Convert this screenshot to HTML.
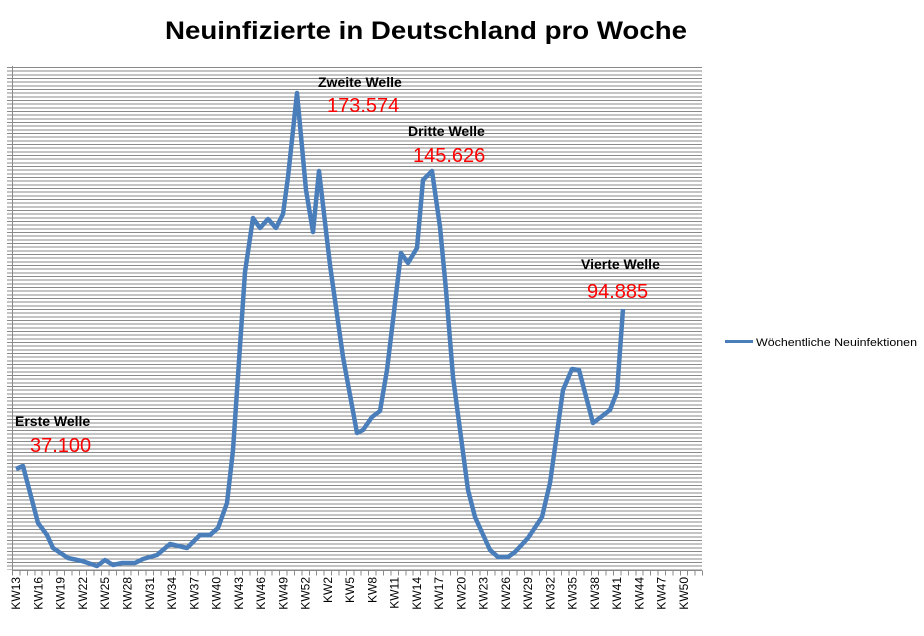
<!DOCTYPE html>
<html><head><meta charset="utf-8"><style>
html,body{margin:0;padding:0;background:#fff;}
svg{display:block;}
text{font-family:"Liberation Sans",sans-serif;}
</style></head><body>
<svg width="924" height="636" viewBox="0 0 924 636" xmlns="http://www.w3.org/2000/svg">
<rect width="924" height="636" fill="#fff"/>
<text x="426" y="39" text-anchor="middle" font-size="25" font-weight="bold" textLength="522" lengthAdjust="spacingAndGlyphs">Neuinfizierte in Deutschland pro Woche</text>
<line x1="354.5" y1="67" x2="354.5" y2="570" stroke="#8a8a8a" stroke-width="695" stroke-dasharray="1 2.667" shape-rendering="crispEdges"/>
<line x1="12.5" y1="66" x2="12.5" y2="571" stroke="#8a8a8a" shape-rendering="crispEdges"/>
<line x1="12" y1="570.5" x2="702" y2="570.5" stroke="#8a8a8a" shape-rendering="crispEdges"/>
<line x1="12" y1="573" x2="703" y2="573" stroke="#8a8a8a" stroke-width="5" stroke-dasharray="1 6.42" shape-rendering="crispEdges"/>
<g font-size="12" text-anchor="end">
<text transform="translate(20.2,577) rotate(-90)">KW13</text>
<text transform="translate(42.5,577) rotate(-90)">KW16</text>
<text transform="translate(64.7,577) rotate(-90)">KW19</text>
<text transform="translate(87,577) rotate(-90)">KW22</text>
<text transform="translate(109.2,577) rotate(-90)">KW25</text>
<text transform="translate(131.5,577) rotate(-90)">KW28</text>
<text transform="translate(153.8,577) rotate(-90)">KW31</text>
<text transform="translate(176,577) rotate(-90)">KW34</text>
<text transform="translate(198.3,577) rotate(-90)">KW37</text>
<text transform="translate(220.5,577) rotate(-90)">KW40</text>
<text transform="translate(242.8,577) rotate(-90)">KW43</text>
<text transform="translate(265.1,577) rotate(-90)">KW46</text>
<text transform="translate(287.3,577) rotate(-90)">KW49</text>
<text transform="translate(309.6,577) rotate(-90)">KW52</text>
<text transform="translate(331.8,577) rotate(-90)">KW2</text>
<text transform="translate(354.1,577) rotate(-90)">KW5</text>
<text transform="translate(376.4,577) rotate(-90)">KW8</text>
<text transform="translate(398.6,577) rotate(-90)">KW11</text>
<text transform="translate(420.9,577) rotate(-90)">KW14</text>
<text transform="translate(443.1,577) rotate(-90)">KW17</text>
<text transform="translate(465.4,577) rotate(-90)">KW20</text>
<text transform="translate(487.7,577) rotate(-90)">KW23</text>
<text transform="translate(509.9,577) rotate(-90)">KW26</text>
<text transform="translate(532.2,577) rotate(-90)">KW29</text>
<text transform="translate(554.4,577) rotate(-90)">KW32</text>
<text transform="translate(576.7,577) rotate(-90)">KW35</text>
<text transform="translate(599,577) rotate(-90)">KW38</text>
<text transform="translate(621.2,577) rotate(-90)">KW41</text>
<text transform="translate(643.5,577) rotate(-90)">KW44</text>
<text transform="translate(665.7,577) rotate(-90)">KW47</text>
<text transform="translate(688,577) rotate(-90)">KW50</text>
</g>
<polyline fill="none" stroke="#4a7ebb" stroke-width="4.5" stroke-linejoin="round" points="16,469 23,466 38,523 47,535 53,548 68,558 82,561 97,566 105,560 113,565 122,563 135,563 143,559 157,555 170,544 187,548 200,535 210,535 218,528 227,503 233,450 245,272 253,218 260,228 268,219 276,228 283,214 288,177 297,93 306,190 313,232 319,171 330,265 343,357 357,433 363,430 372,417 380,411 387,370 393,320 401,253 408,263 417,248 423,180 432,171 440,227 446,290 453,377 468,490 475,517 490,550 498,557 508,557 515,552 528,538 542,517 550,483 563,390 572,369 579,370 593,423 610,410 617,392 623,309"/>
<text x="318" y="87" font-size="14" font-weight="bold">Zweite Welle</text>
<text x="327" y="112" font-size="20" fill="#ff0000">173.574</text>
<text x="408" y="136" font-size="14" font-weight="bold">Dritte Welle</text>
<text x="413" y="162" font-size="20" fill="#ff0000">145.626</text>
<text x="581" y="269" font-size="14" font-weight="bold">Vierte Welle</text>
<text x="587" y="298" font-size="20" fill="#ff0000">94.885</text>
<text x="15" y="426" font-size="14" font-weight="bold">Erste Welle</text>
<text x="30" y="452" font-size="20" fill="#ff0000">37.100</text>
<line x1="725" y1="341.5" x2="753" y2="341.5" stroke="#4a7ebb" stroke-width="3"/>
<text x="756" y="346" font-size="11" textLength="161" lengthAdjust="spacingAndGlyphs">Wöchentliche Neuinfektionen</text>
</svg>
</body></html>
